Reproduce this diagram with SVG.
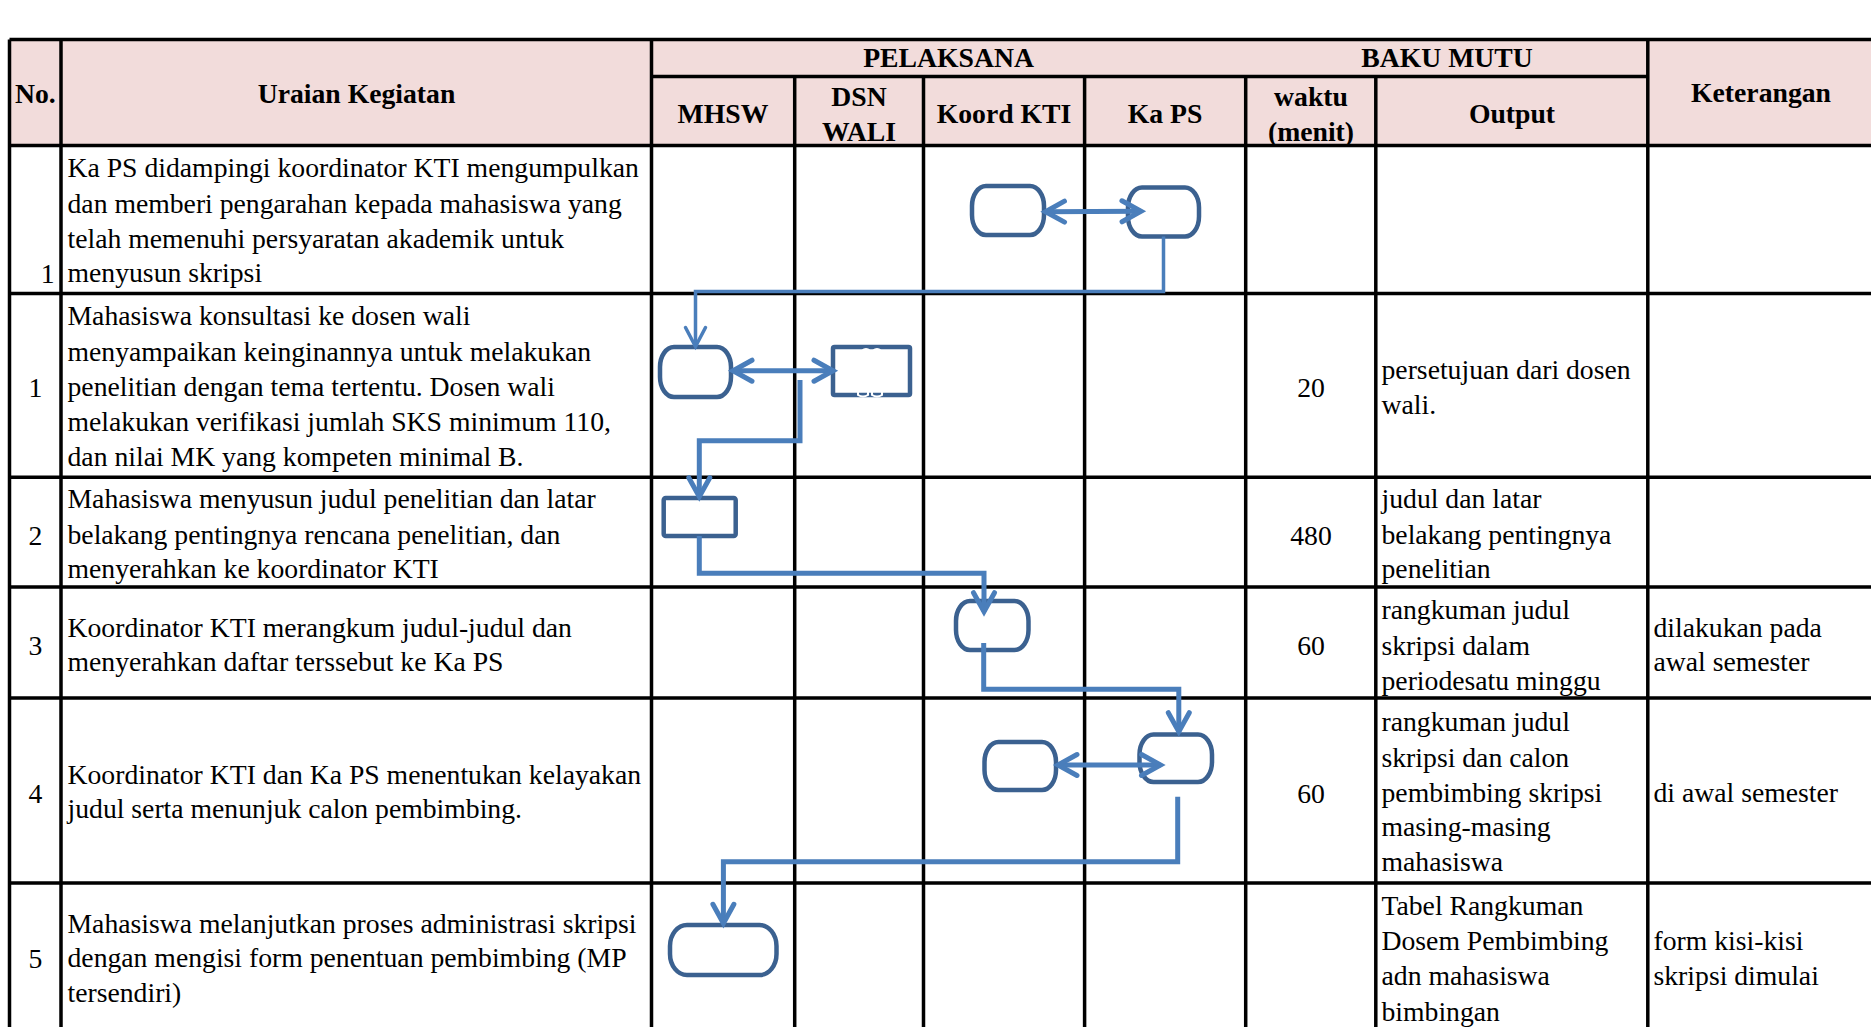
<svg xmlns="http://www.w3.org/2000/svg" width="1871" height="1027" viewBox="0 0 1871 1027">
<style>
.grid{stroke:#000;stroke-width:3.5;fill:none}
.hd{font-family:"Liberation Serif","Times New Roman",serif;font-size:27.7px;font-weight:bold;fill:#000}
.tx{font-family:"Liberation Serif","Times New Roman",serif;font-size:27.7px;fill:#000}
.mid{text-anchor:middle}
.shape{fill:#fff;stroke:#3B6190;stroke-width:4.5}
.conn{fill:none;stroke:#4A7EBB;stroke-width:5;stroke-linejoin:miter}
.thin{stroke-width:3.5}
</style>
<defs>
<marker id="ah" markerUnits="userSpaceOnUse" viewBox="-26 -16 30 32" refX="0" refY="0" markerWidth="30" markerHeight="32" orient="auto-start-reverse" overflow="visible">
<path d="M-19,-10.5 L0,0 L-19,10.5" fill="none" stroke="#4A7EBB" stroke-width="5" stroke-linecap="round"/>
</marker>
<marker id="ahThin" markerUnits="userSpaceOnUse" viewBox="-26 -16 30 32" refX="0" refY="0" markerWidth="30" markerHeight="32" orient="auto-start-reverse" overflow="visible">
<path d="M-19,-10 L0,0 L-19,10" fill="none" stroke="#4A7EBB" stroke-width="3.5" stroke-linecap="round"/>
</marker>
</defs>
<rect width="1871" height="1027" fill="#fff"/>
<g id="table">
<rect x="9.5" y="39.4" width="1862" height="106.2" fill="#F2DCDB"/>
<path class="grid" d="M9.5,39.4H1871 M651.5,76.4H1647.8 M9.5,145.6H1871 M9.5,293.5H1871 M9.5,477.3H1871 M9.5,587H1871 M9.5,698H1871 M9.5,883H1871 M9.5,39.4V1027 M61,39.4V1027 M651.5,39.4V1027 M794.7,76.4V1027 M923.5,76.4V1027 M1084.6,76.4V1027 M1245.7,76.4V1027 M1375.8,76.4V1027 M1647.8,39.4V1027"/>
</g>
<g id="header">
<text class="hd" x="15" y="103">No.</text>
<text class="hd mid" x="356.5" y="103">Uraian Kegiatan</text>
<text class="hd mid" x="948.6" y="66.7">PELAKSANA</text>
<text class="hd mid" x="1447" y="66.7">BAKU MUTU</text>
<text class="hd mid" x="1761" y="102">Keterangan</text>
<text class="hd mid" x="723" y="123.2">MHSW</text>
<text class="hd mid" x="859" y="105.8">DSN</text>
<text class="hd mid" x="859" y="140.8">WALI</text>
<text class="hd mid" x="1004" y="123.2">Koord KTI</text>
<text class="hd mid" x="1165" y="123.2">Ka PS</text>
<text class="hd mid" x="1311" y="105.8">waktu</text>
<text class="hd mid" x="1311" y="140.8">(menit)</text>
<text class="hd mid" x="1512" y="123.2">Output</text>
</g>
<g id="row1">
<text class="tx" x="54.5" y="282.7" text-anchor="end">1</text>
<text class="tx" x="67.5" y="177.4">Ka PS didampingi koordinator KTI mengumpulkan</text>
<text class="tx" x="67.5" y="212.7">dan memberi pengarahan kepada mahasiswa yang</text>
<text class="tx" x="67.5" y="247.8">telah memenuhi persyaratan akademik untuk</text>
<text class="tx" x="67.5" y="282.4">menyusun skripsi</text>
</g>
<g id="row2">
<text class="tx mid" x="35.5" y="397">1</text>
<text class="tx" x="67.5" y="325.4">Mahasiswa konsultasi ke dosen wali</text>
<text class="tx" x="67.5" y="360.7">menyampaikan keinginannya untuk melakukan</text>
<text class="tx" x="67.5" y="395.8">penelitian dengan tema tertentu. Dosen wali</text>
<text class="tx" x="67.5" y="431.2">melakukan verifikasi jumlah SKS minimum 110,</text>
<text class="tx" x="67.5" y="466.2">dan nilai MK yang kompeten minimal B.</text>
<text class="tx mid" x="1311" y="397">20</text>
<text class="tx" x="1381.5" y="379.2">persetujuan dari dosen</text>
<text class="tx" x="1381.5" y="413.7">wali.</text>
</g>
<g id="row3">
<text class="tx mid" x="35.5" y="544.9">2</text>
<text class="tx" x="67.5" y="508">Mahasiswa menyusun judul penelitian dan latar</text>
<text class="tx" x="67.5" y="543.5">belakang pentingnya rencana penelitian, dan</text>
<text class="tx" x="67.5" y="578.2">menyerahkan ke koordinator KTI</text>
<text class="tx mid" x="1311" y="544.9">480</text>
<text class="tx" x="1381.5" y="508">judul dan latar</text>
<text class="tx" x="1381.5" y="543.5">belakang pentingnya</text>
<text class="tx" x="1381.5" y="578.2">penelitian</text>
</g>
<g id="row4">
<text class="tx mid" x="35.5" y="654.7">3</text>
<text class="tx" x="67.5" y="636.8">Koordinator KTI merangkum judul-judul dan</text>
<text class="tx" x="67.5" y="671.4">menyerahkan daftar terssebut ke Ka PS</text>
<text class="tx mid" x="1311" y="654.7">60</text>
<text class="tx" x="1381.5" y="618.9">rangkuman judul</text>
<text class="tx" x="1381.5" y="654.5">skripsi dalam</text>
<text class="tx" x="1381.5" y="690.2">periodesatu minggu</text>
<text class="tx" x="1653.5" y="636.8">dilakukan pada</text>
<text class="tx" x="1653.5" y="671.4">awal semester</text>
</g>
<g id="row5">
<text class="tx mid" x="35.5" y="802.7">4</text>
<text class="tx" x="67.5" y="783.6">Koordinator KTI dan Ka PS menentukan kelayakan</text>
<text class="tx" x="67.5" y="818.2">judul serta menunjuk calon pembimbing.</text>
<text class="tx mid" x="1311" y="802.7">60</text>
<text class="tx" x="1381.5" y="731.2">rangkuman judul</text>
<text class="tx" x="1381.5" y="766.7">skripsi dan calon</text>
<text class="tx" x="1381.5" y="801.5">pembimbing skripsi</text>
<text class="tx" x="1381.5" y="836.2">masing-masing</text>
<text class="tx" x="1381.5" y="870.7">mahasiswa</text>
<text class="tx" x="1653.5" y="801.5">di awal semester</text>
</g>
<g id="row6">
<text class="tx mid" x="35.5" y="968.2">5</text>
<text class="tx" x="67.5" y="932.7">Mahasiswa melanjutkan proses administrasi skripsi</text>
<text class="tx" x="67.5" y="967.2">dengan mengisi form penentuan pembimbing (MP</text>
<text class="tx" x="67.5" y="1001.9">tersendiri)</text>
<text class="tx" x="1381.5" y="914.9">Tabel Rangkuman</text>
<text class="tx" x="1381.5" y="950.4">Dosem Pembimbing</text>
<text class="tx" x="1381.5" y="985.2">adn mahasiswa</text>
<text class="tx" x="1381.5" y="1020.8">bimbingan</text>
<text class="tx" x="1653.5" y="950.4">form kisi-kisi</text>
<text class="tx" x="1653.5" y="985.2">skripsi dimulai</text>
</g>
<g id="n1-koord"><rect class="shape" x="972" y="186" width="72" height="49" rx="14" ry="20"/></g>
<g id="n1-kaps"><rect class="shape" x="1128" y="187.5" width="71" height="49" rx="14" ry="20"/></g>
<g id="n2-mhsw"><rect class="shape" x="660" y="347" width="71" height="50" rx="14" ry="20"/></g>
<g id="n2-dsn"><rect class="shape" x="833" y="347" width="77" height="48" rx="1.5"/>
<path d="M862,351 q4,-4 8,0 M873,351 q4,-4 8,0" fill="none" stroke="#fff" stroke-width="2"/>
<path d="M858,392 v3 q5,3 10,0 v-3 M872,392 v3 q5,3 10,0 v-3" fill="none" stroke="#fff" stroke-width="2"/></g>
<g id="n3-mhsw"><rect class="shape" x="663.7" y="498" width="72" height="38" rx="2"/></g>
<g id="n4-koord"><rect class="shape" x="956" y="601" width="72.5" height="49" rx="14" ry="20"/></g>
<g id="n5-koord"><rect class="shape" x="984.5" y="742" width="71.5" height="48" rx="14" ry="20"/></g>
<g id="n5-kaps"><rect class="shape" x="1139.5" y="734.5" width="72.5" height="47.5" rx="14" ry="20"/></g>
<g id="n6-mhsw"><rect class="shape" x="670" y="925" width="106.5" height="50" rx="17" ry="21"/></g>
<g id="connectors">
<path class="conn" d="M1045.5,211.7 L1141,211.2" marker-start="url(#ah)" marker-end="url(#ah)"/>
<path class="conn thin" d="M1163.5,236.5 V291.5 H695.5 V346.5" marker-end="url(#ahThin)"/>
<path class="conn" d="M733,370.7 H833" marker-start="url(#ah)" marker-end="url(#ah)"/>
<path class="conn" d="M800,380 V440.7 H699.3 V496.7" marker-end="url(#ah)"/>
<path class="conn" d="M699.3,536 V573.3 H984 V611.7" marker-end="url(#ah)"/>
<path class="conn" d="M983.7,643 V689.3 H1178.8 V731.7" marker-end="url(#ah)"/>
<path class="conn" d="M1058,765 H1160.5" marker-start="url(#ah)" marker-end="url(#ah)"/>
<path class="conn" d="M1177.7,796.7 V861.7 H723.4 V923.3" marker-end="url(#ah)"/>
</g>
</svg>
